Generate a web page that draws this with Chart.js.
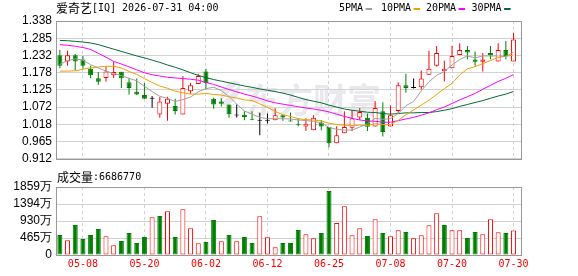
<!DOCTYPE html>
<html>
<head>
<meta charset="utf-8">
<script src="https://cdn.jsdelivr.net/npm/chart.js@4.4.1/dist/chart.umd.min.js"></script>
<style>
  html, body { margin: 0; padding: 0; background: #fff; }
  #wrap { position: relative; width: 578px; height: 276px; overflow: hidden; background: #fff; }
  #priceChart { position: absolute; left: 0; top: 0; }
  #volChart { position: absolute; left: 0; top: 170px; }
</style>
</head>
<body>
<div id="wrap">
  <canvas id="priceChart" width="578" height="170"></canvas>
  <canvas id="volChart" width="578" height="106"></canvas>
</div>
<script>
// --- DATA ---
const stockName = '爱奇艺';
const stockCode = '[IQ] 2026-07-31 04:00';

const dates = ['05-05','05-06','05-07','05-08','05-11','05-12','05-13','05-14','05-15','05-18',
  '05-19','05-20','05-21','05-22','05-26','05-27','05-28','05-29','06-01','06-02',
  '06-03','06-04','06-05','06-08','06-09','06-10','06-11','06-12','06-15','06-16',
  '06-17','06-18','06-22','06-23','06-24','06-25','06-26','06-29','06-30','07-01',
  '07-02','07-06','07-07','07-08','07-09','07-10','07-13','07-14','07-15','07-16',
  '07-17','07-20','07-21','07-22','07-23','07-24','07-27','07-28','07-29','07-30'];

const opens = [1.232,1.213,1.232,1.219,1.190,1.161,1.162,1.170,1.181,1.149,
  1.119,1.109,1.098,1.049,1.082,1.075,1.049,1.121,1.143,1.182,
  1.098,1.089,1.080,1.046,1.048,1.034,1.030,1.030,1.031,1.047,
  1.030,1.018,1.012,1.000,1.024,1.010,0.960,0.991,1.008,1.040,
  1.039,1.012,1.059,1.012,1.060,1.139,1.131,1.133,1.172,1.200,
  1.183,1.192,1.233,1.248,1.219,1.212,1.239,1.213,1.248,1.213];
const highs = [1.249,1.246,1.236,1.230,1.200,1.180,1.197,1.212,1.181,1.162,
  1.160,1.146,1.106,1.103,1.104,1.098,1.168,1.146,1.175,1.190,
  1.101,1.099,1.080,1.080,1.059,1.059,1.054,1.052,1.068,1.049,
  1.055,1.037,1.037,1.047,1.032,1.010,1.013,1.059,1.062,1.069,
  1.052,1.091,1.087,1.077,1.149,1.175,1.160,1.185,1.246,1.261,
  1.215,1.261,1.269,1.261,1.244,1.239,1.261,1.269,1.276,1.302];
const lows = [1.192,1.200,1.185,1.190,1.161,1.141,1.150,1.162,1.131,1.111,
  1.109,1.098,1.070,1.039,1.030,1.049,1.049,1.113,1.143,1.126,
  1.067,1.074,1.040,1.040,1.031,1.031,0.985,1.021,1.031,1.030,
  1.027,1.013,0.998,1.000,1.000,0.948,0.960,0.991,0.998,1.032,
  0.998,1.012,0.981,1.012,1.052,1.116,1.129,1.126,1.172,1.197,
  1.151,1.192,1.233,1.220,1.200,1.182,1.220,1.213,1.220,1.213];
const closes = [1.200,1.232,1.213,1.200,1.170,1.150,1.182,1.180,1.161,1.131,
  1.111,1.098,1.098,1.089,1.098,1.060,1.131,1.139,1.168,1.146,
  1.080,1.082,1.050,1.046,1.041,1.033,1.030,1.030,1.047,1.040,
  1.027,1.016,1.020,1.039,1.012,0.960,0.985,1.010,1.037,1.057,
  1.011,1.069,0.995,1.047,1.139,1.131,1.131,1.160,1.190,1.239,
  1.190,1.230,1.248,1.241,1.212,1.219,1.232,1.248,1.229,1.281];

// volume in 万 shares, volUp = 1 for red bars
const volumes = [547,401,820,437,547,711,510,264,383,601,
  328,492,1030,1066,1194,492,1248,729,319,355,
  957,374,547,374,492,328,1057,483,210,328,
  328,683,565,456,601,1750,875,1330,538,729,
  519,975,601,510,674,629,456,538,811,1139,
  820,674,674,465,629,565,975,620,601,668.677];
const volUp = [0,1,0,0,0,0,1,1,0,0, 0,0,1,0,1,0,1,1,1,0,
  0,1,0,1,0,0,1,1,1,0, 0,0,1,1,0,0,1,1,1,1,
  0,1,0,1,1,0,1,1,1,1, 0,1,1,0,0,1,1,1,0,1];

const ma5 = [1.204,1.215,1.221,1.217,1.203,1.193,1.183,1.176,1.169,1.161,
  1.153,1.136,1.120,1.105,1.099,1.089,1.095,1.103,1.119,1.129,
  1.133,1.123,1.105,1.081,1.060,1.050,1.040,1.036,1.036,1.036,
  1.035,1.032,1.030,1.028,1.023,1.009,1.003,1.001,1.001,1.010,
  1.020,1.037,1.034,1.036,1.052,1.076,1.089,1.122,1.150,1.170,
  1.182,1.202,1.219,1.230,1.224,1.230,1.230,1.230,1.228,1.242];
const ma10 = [1.183,1.183,1.184,1.189,1.193,1.196,1.198,1.198,1.193,1.182,
  1.173,1.160,1.148,1.137,1.130,1.121,1.116,1.112,1.112,1.114,
  1.111,1.109,1.104,1.100,1.094,1.092,1.082,1.071,1.059,1.048,
  1.043,1.036,1.033,1.032,1.029,1.022,1.018,1.016,1.015,1.016,
  1.015,1.020,1.018,1.018,1.031,1.048,1.063,1.078,1.093,1.111,
  1.129,1.145,1.171,1.190,1.197,1.206,1.216,1.225,1.229,1.233];
const ma20 = [1.265,1.263,1.260,1.256,1.250,1.238,1.226,1.213,1.205,1.196,
  1.187,1.178,1.172,1.168,1.164,1.162,1.160,1.158,1.155,1.148,
  1.142,1.134,1.126,1.119,1.112,1.106,1.099,1.091,1.085,1.081,
  1.077,1.073,1.069,1.066,1.062,1.057,1.050,1.043,1.037,1.032,
  1.029,1.028,1.025,1.025,1.030,1.035,1.040,1.047,1.054,1.064,
  1.072,1.083,1.094,1.104,1.114,1.127,1.139,1.151,1.161,1.172];
const ma30 = [1.278,1.277,1.275,1.273,1.270,1.265,1.258,1.251,1.244,1.237,
  1.230,1.224,1.217,1.210,1.202,1.195,1.187,1.178,1.170,1.163,
  1.157,1.152,1.147,1.142,1.137,1.133,1.128,1.124,1.120,1.115,
  1.109,1.102,1.095,1.090,1.085,1.078,1.072,1.066,1.062,1.059,
  1.056,1.055,1.052,1.050,1.052,1.054,1.054,1.055,1.055,1.058,
  1.062,1.067,1.074,1.080,1.086,1.092,1.099,1.106,1.112,1.120];

const maNames = ['5PMA', '10PMA', '20PMA', '30PMA'];
const priceTicks = ['0.912','0.965','1.018','1.072','1.125','1.178','1.232','1.285','1.338'];
const volTicks = ['0', '465万', '930万', '1394万', '1859万'];
const dateTicks = ['05-08','05-20','06-02','06-12','06-25','07-08','07-20','07-30'];

// --- STYLE ---
const UP = '#ff0000', DOWN = '#008000', FLAT = '#000000';
const MA_COLORS = ['#a0a0a0', '#f0a000', '#ff00ff', '#006b38'];
const GRID = '#d2d2d2', FRAME = '#999999';
const MONO = '"DejaVu Sans Mono", monospace';
const CJK = '"Noto Sans CJK SC", sans-serif';
const SANS = '"Liberation Sans", Arial, sans-serif';
const X_MIN = -0.5, X_MAX = 60.1;
const legendX = [339, 381, 426, 471.5];

const tickIdx = dateTicks.map(d => dates.indexOf(d));
const dir = i => closes[i] > opens[i] ? 1 : (closes[i] < opens[i] ? -1 : 0);
const candleColor = i => dir(i) > 0 ? UP : (dir(i) < 0 ? DOWN : FLAT);

// --- HELPERS ---
function xScale(showLabels, height) {
    return {
        type: 'linear', min: X_MIN, max: X_MAX, offset: false, bounds: 'data',
        afterBuildTicks: s => { s.ticks = tickIdx.map(v => ({ value: v })); },
        ticks: {
            display: showLabels, autoSkip: false, maxRotation: 0, padding: 3.5,
            color: '#ff0000', font: { family: MONO, size: 10 },
            callback: v => dates[v]
        },
        grid: { color: GRID, drawTicks: false, offset: false },
        border: { display: false, dash: [3, 3] },
        afterFit: s => { s.height = height; }
    };
}

function yScale(labels) {
    const min = parseFloat(labels[0]);
    const max = parseFloat(labels[labels.length - 1]);
    return {
        min, max, bounds: 'data',
        afterBuildTicks: s => {
            s.ticks = labels.map((t, k) => ({ value: min + k * (max - min) / (labels.length - 1) }));
        },
        ticks: {
            autoSkip: false, padding: 4, color: '#000',
            font: { family: SANS, size: 12 },
            callback: (v, k) => labels[k]
        },
        grid: { color: GRID, drawTicks: false },
        border: { display: false },
        afterFit: s => { s.width = 56; }
    };
}

function drawFrame(chart) {
    const { ctx, chartArea: a } = chart;
    ctx.save();
    ctx.strokeStyle = FRAME;
    ctx.lineWidth = 1;
    ctx.strokeRect(Math.round(a.left) + 0.5, Math.round(a.top) + 0.5,
        Math.round(a.right - a.left) - 1, Math.round(a.bottom - a.top));
    ctx.restore();
}

// draws pieces of text one after another, each with its own font
function drawMixed(ctx, parts, x, y) {
    ctx.save();
    ctx.textBaseline = 'middle';
    ctx.fillStyle = '#000';
    parts.forEach(([text, font]) => {
        ctx.font = font;
        ctx.fillText(text, x, y);
        x += ctx.measureText(text).width;
    });
    ctx.restore();
}

const priceDecor = {
    id: 'priceDecor',
    beforeDraw(chart) {
        // faint watermark behind the grid
        const ctx = chart.ctx;
        ctx.save();
        ctx.fillStyle = '#e9e9ed';
        ctx.beginPath();
        ctx.ellipse(230, 93, 8, 14, 0.6, 0, Math.PI * 2);
        ctx.fill();
        ctx.strokeStyle = '#fff';
        ctx.lineWidth = 2;
        ctx.beginPath();
        ctx.moveTo(222, 101); ctx.lineTo(238, 85);
        ctx.stroke();
        ctx.font = 'bold 34px ' + CJK;
        ctx.textBaseline = 'middle';
        ctx.textAlign = 'center';
        ['东', '方', '财', '富'].forEach((c, k) => ctx.fillText(c, 262 + k * 34, 100));
        ctx.restore();
    },
    afterDraw(chart) {
        const ctx = chart.ctx;
        drawFrame(chart);
        drawMixed(ctx, [[stockName, '12px ' + CJK], [stockCode, '10px ' + MONO]], 56, 8.5);
        ctx.save();
        ctx.font = '10px ' + MONO;
        ctx.textBaseline = 'middle';
        maNames.forEach((name, k) => {
            ctx.fillStyle = '#000';
            ctx.fillText(name, legendX[k], 8.5);
            const w = ctx.measureText(name).width;
            ctx.fillStyle = MA_COLORS[k];
            ctx.fillRect(legendX[k] + w + 2.5, 8, 6.5, 2);
        });
        ctx.restore();
    }
};

const volDecor = {
    id: 'volDecor',
    afterDraw(chart) {
        drawFrame(chart);
        const last = Math.round(volumes[volumes.length - 1] * 10000);
        drawMixed(chart.ctx, [['成交量', '12px ' + CJK], [':' + last, '10px ' + MONO]], 57, 7.7);
    }
};

// --- PRICE CHART ---
function renderPrice() {
    const idx = dates.map((d, i) => i);
    const maSets = [ma5, ma10, ma20, ma30].map((arr, k) => ({
        type: 'line',
        data: arr.map((v, i) => ({ x: i, y: v })),
        borderColor: MA_COLORS[k],
        borderWidth: 1,
        pointRadius: 0,
        tension: 0,
        order: 0
    }));
    new Chart(document.getElementById('priceChart'), {
        type: 'bar',
        data: {
            datasets: [
                ...maSets,
                {
                    data: idx.map(i => ({ x: i, y: [Math.min(opens[i], closes[i]), Math.max(opens[i], closes[i])] })),
                    backgroundColor: idx.map(i => dir(i) > 0 ? '#ffffff' : candleColor(i)),
                    borderColor: idx.map(candleColor),
                    borderWidth: 1,
                    borderSkipped: false,
                    barThickness: 5,
                    minBarLength: 1,
                    inflateAmount: 0,
                    grouped: false,
                    order: 1
                },
                {
                    data: idx.map(i => ({ x: i, y: [lows[i], highs[i]] })),
                    backgroundColor: idx.map(candleColor),
                    borderWidth: 0,
                    barThickness: 1,
                    inflateAmount: 0,
                    grouped: false,
                    order: 2
                }
            ]
        },
        options: {
            responsive: false,
            devicePixelRatio: 1,
            animation: false,
            events: [],
            layout: { padding: { top: 21, right: 56, bottom: 5, left: 0 } },
            plugins: { legend: { display: false }, tooltip: { enabled: false } },
            scales: {
                x: xScale(false, 0),
                y: yScale(priceTicks)
            }
        },
        plugins: [priceDecor]
    });
}

// --- VOLUME CHART ---
function renderVolume() {
    const idx = dates.map((d, i) => i);
    const vScale = yScale(['0', '1859']);
    vScale.afterBuildTicks = s => {
        s.ticks = volTicks.map((t, k) => ({ value: k * 1859 / (volTicks.length - 1) }));
    };
    vScale.ticks.callback = (v, k) => volTicks[k];

    new Chart(document.getElementById('volChart'), {
        type: 'bar',
        data: {
            datasets: [{
                data: idx.map(i => ({ x: i, y: volumes[i] })),
                backgroundColor: idx.map(i => volUp[i] ? '#ffffff' : DOWN),
                borderColor: idx.map(i => volUp[i] ? UP : DOWN),
                borderWidth: 1,
                borderSkipped: false,
                barThickness: 5,
                inflateAmount: 0
            }]
        },
        options: {
            responsive: false,
            devicePixelRatio: 1,
            animation: false,
            events: [],
            layout: { padding: { top: 17, right: 56, bottom: 0, left: 0 } },
            plugins: { legend: { display: false }, tooltip: { enabled: false } },
            scales: {
                x: xScale(true, 21),
                y: vScale
            }
        },
        plugins: [volDecor]
    });
}

window.onload = () => { renderPrice(); renderVolume(); };
</script>
</body>
</html>
